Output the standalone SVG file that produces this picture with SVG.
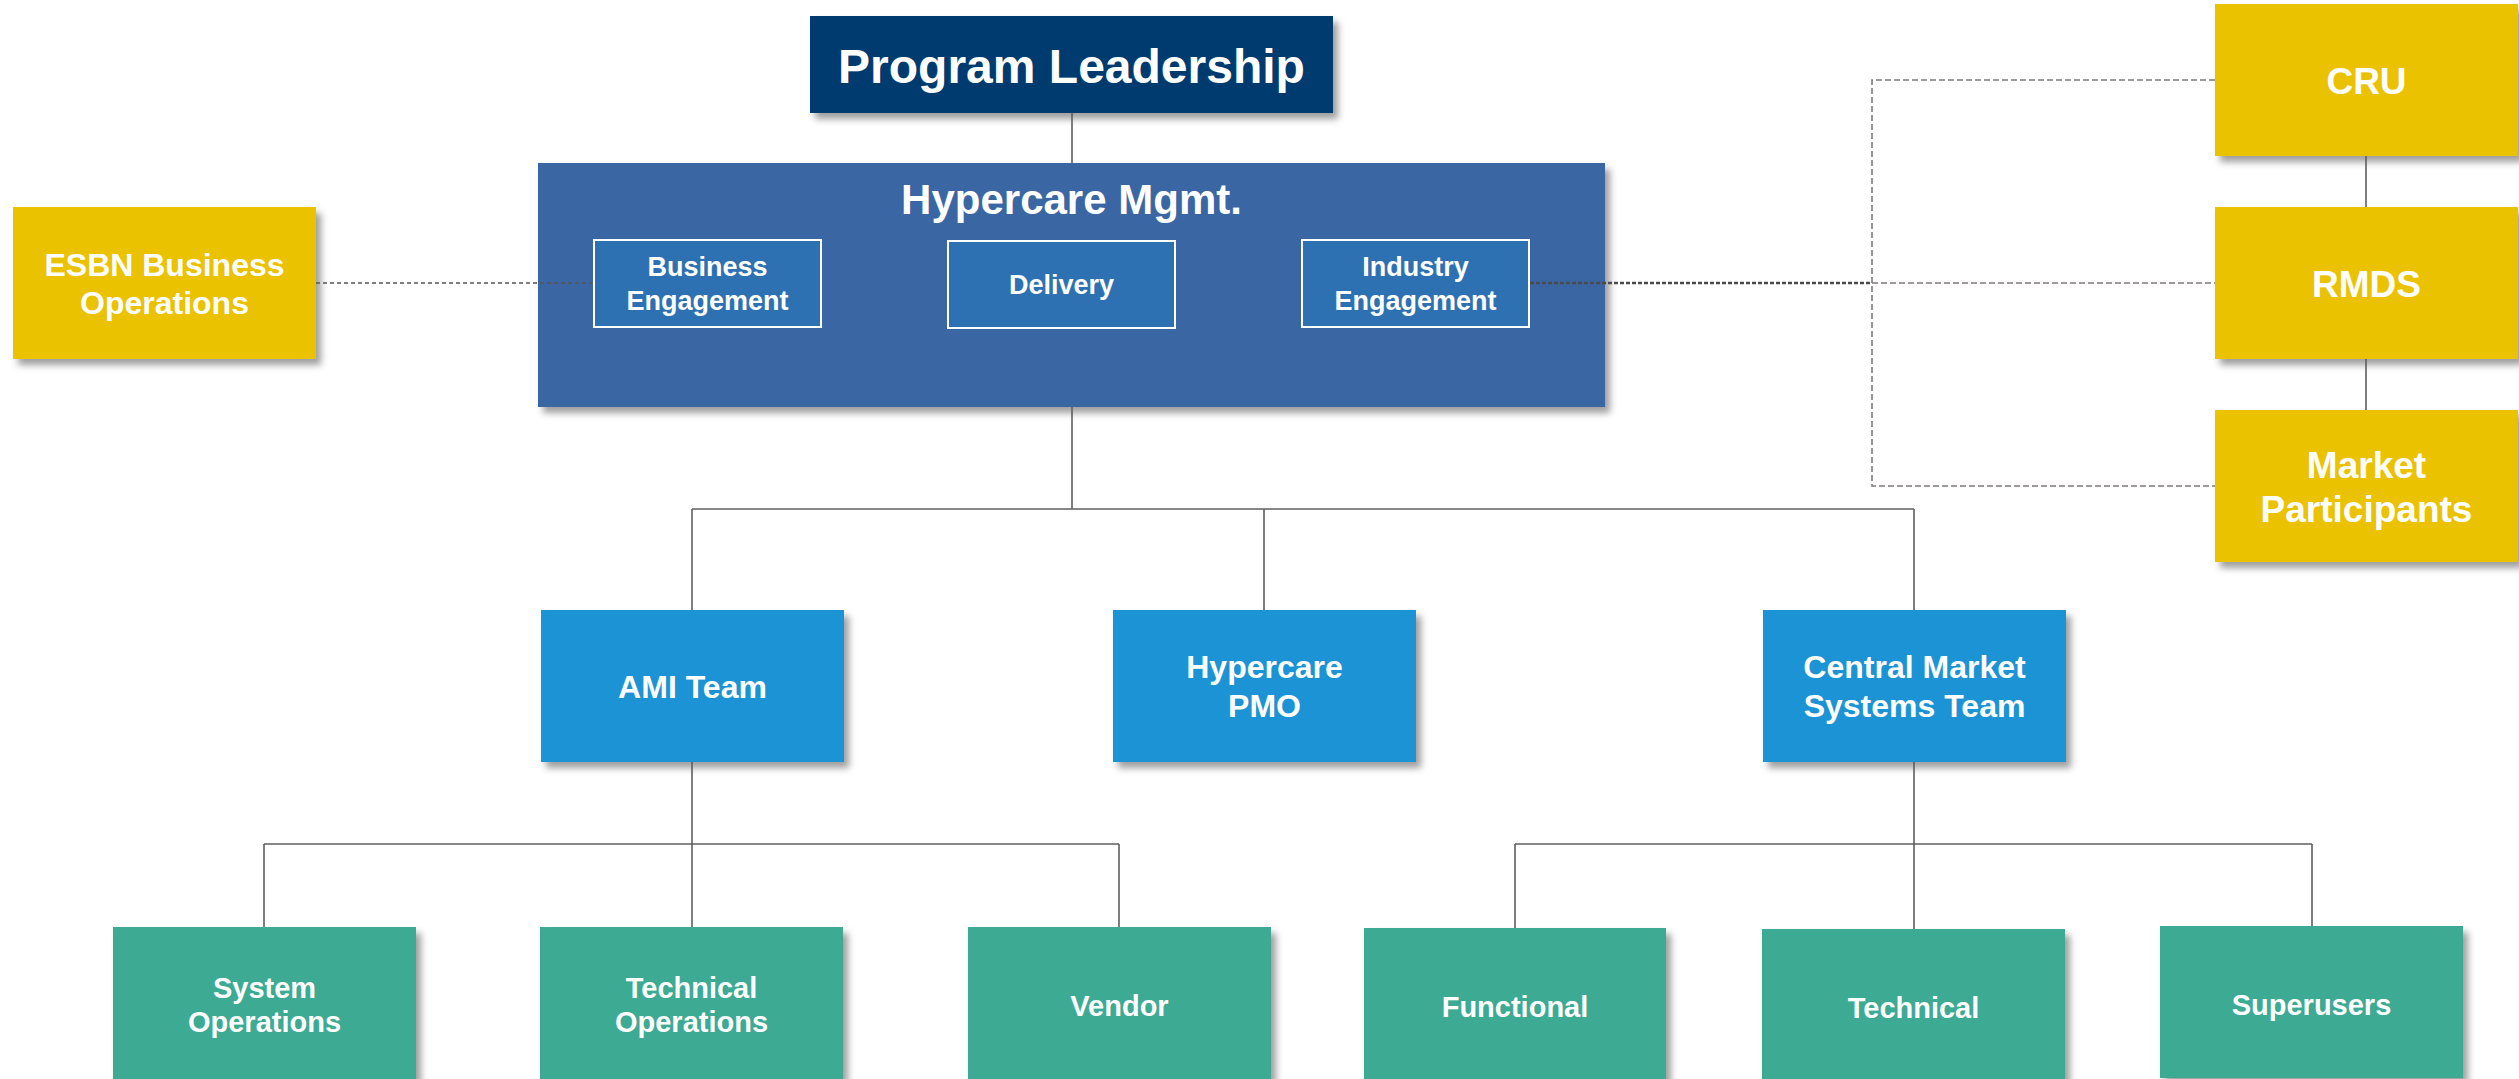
<svg xmlns="http://www.w3.org/2000/svg" width="2519" height="1079" viewBox="0 0 2519 1079">
  <defs>
    <filter id="shadow" x="-10%" y="-10%" width="130%" height="130%">
      <feDropShadow dx="5" dy="6" stdDeviation="3.5" flood-color="#000" flood-opacity="0.38"/>
    </filter>
  </defs>
  <style>
    text { font-family: "Liberation Sans", Arial, sans-serif; font-weight: bold; fill: #ffffff; text-anchor: middle; }
    .box { filter: url(#shadow); }
    .lead { fill: #033b6f; }
    .mgmt { fill: #3a66a4; }
    .sub { fill: #2e71b2; stroke: #ffffff; stroke-width: 2; }
    .ext { fill: #ebc200; }
    .team { fill: #1a93d4; }
    .unit { fill: #3eaa93; }
    .solid { stroke: #5e5e5e; stroke-width: 1.6; fill: none; }
    .dot { stroke: #555555; stroke-width: 1.6; stroke-dasharray: 4 3; fill: none; }
    .dotdark { stroke: #4a4a4a; stroke-width: 2.4; stroke-dasharray: 4 2; fill: none; }
    .dash { stroke: #7d7a78; stroke-width: 1.6; stroke-dasharray: 6 3; fill: none; }
    .t48 { font-size: 48px; }
    .t42 { font-size: 42px; }
    .t37 { font-size: 37px; }
    .t32 { font-size: 32px; }
    .t29 { font-size: 29px; }
    .t27 { font-size: 27px; }
  </style>

  <g id="program-leadership">
    <rect class="box lead" x="810" y="16" width="523" height="97"/>
    <text class="t48" x="1071.5" y="83">Program Leadership</text>
  </g>

  <g id="hypercare-mgmt">
    <rect class="box mgmt" x="538" y="163" width="1067" height="244"/>
    <text class="t42" x="1071.5" y="214">Hypercare Mgmt.</text>
  </g>

  <g id="business-engagement">
    <rect class="sub" x="594" y="240" width="227" height="87"/>
    <text class="t27" x="707.5" y="276">Business</text>
    <text class="t27" x="707.5" y="310">Engagement</text>
  </g>

  <g id="delivery">
    <rect class="sub" x="948" y="241" width="227" height="87"/>
    <text class="t27" x="1061.5" y="294">Delivery</text>
  </g>

  <g id="industry-engagement">
    <rect class="sub" x="1302" y="240" width="227" height="87"/>
    <text class="t27" x="1415.5" y="276">Industry</text>
    <text class="t27" x="1415.5" y="310">Engagement</text>
  </g>

  <g id="esbn-business-operations">
    <rect class="box ext" x="13" y="207" width="303" height="152"/>
    <text class="t32" x="164.5" y="276">ESBN Business</text>
    <text class="t32" x="164.5" y="314">Operations</text>
  </g>

  <g id="cru">
    <rect class="box ext" x="2215" y="4" width="303" height="152"/>
    <text class="t37" x="2366.5" y="94">CRU</text>
  </g>

  <g id="rmds">
    <rect class="box ext" x="2215" y="207" width="303" height="152"/>
    <text class="t37" x="2366.5" y="297">RMDS</text>
  </g>

  <g id="market-participants">
    <rect class="box ext" x="2215" y="410" width="303" height="152"/>
    <text class="t37" x="2366.5" y="478">Market</text>
    <text class="t37" x="2366.5" y="522">Participants</text>
  </g>

  <g id="ami-team">
    <rect class="box team" x="541" y="610" width="303" height="152"/>
    <text class="t32" x="692.5" y="698">AMI Team</text>
  </g>

  <g id="hypercare-pmo">
    <rect class="box team" x="1113" y="610" width="303" height="152"/>
    <text class="t32" x="1264.5" y="678">Hypercare</text>
    <text class="t32" x="1264.5" y="717">PMO</text>
  </g>

  <g id="central-market-systems-team">
    <rect class="box team" x="1763" y="610" width="303" height="152"/>
    <text class="t32" x="1914.5" y="678">Central Market</text>
    <text class="t32" x="1914.5" y="717">Systems Team</text>
  </g>

  <g id="system-operations">
    <rect class="box unit" x="113" y="927" width="303" height="152"/>
    <text class="t29" x="264.5" y="998">System</text>
    <text class="t29" x="264.5" y="1032">Operations</text>
  </g>

  <g id="technical-operations">
    <rect class="box unit" x="540" y="927" width="303" height="152"/>
    <text class="t29" x="691.5" y="998">Technical</text>
    <text class="t29" x="691.5" y="1032">Operations</text>
  </g>

  <g id="vendor">
    <rect class="box unit" x="968" y="927" width="303" height="152"/>
    <text class="t29" x="1119.5" y="1016">Vendor</text>
  </g>

  <g id="functional">
    <rect class="box unit" x="1364" y="928" width="302" height="152"/>
    <text class="t29" x="1515" y="1017">Functional</text>
  </g>

  <g id="technical">
    <rect class="box unit" x="1762" y="929" width="303" height="152"/>
    <text class="t29" x="1913.5" y="1018">Technical</text>
  </g>

  <g id="superusers">
    <rect class="box unit" x="2160" y="926" width="303" height="152"/>
    <text class="t29" x="2311.5" y="1015">Superusers</text>
  </g>

  <!-- connectors, drawn last so the liaison lines show over the management panel -->
  <g id="connectors">
    <!-- leadership to hypercare management -->
    <line class="solid" x1="1072" y1="113" x2="1072" y2="163"/>
    <!-- hypercare management to teams -->
    <line class="solid" x1="1072" y1="407" x2="1072" y2="509"/>
    <line class="solid" x1="692" y1="509" x2="1914" y2="509"/>
    <line class="solid" x1="692" y1="509" x2="692" y2="610"/>
    <line class="solid" x1="1264" y1="509" x2="1264" y2="610"/>
    <line class="solid" x1="1914" y1="509" x2="1914" y2="610"/>
    <!-- AMI team branches -->
    <line class="solid" x1="692" y1="762" x2="692" y2="927"/>
    <line class="solid" x1="264" y1="844" x2="1119" y2="844"/>
    <line class="solid" x1="264" y1="844" x2="264" y2="927"/>
    <line class="solid" x1="1119" y1="844" x2="1119" y2="927"/>
    <!-- central market systems branches -->
    <line class="solid" x1="1914" y1="762" x2="1914" y2="929"/>
    <line class="solid" x1="1515" y1="844" x2="2312" y2="844"/>
    <line class="solid" x1="1515" y1="844" x2="1515" y2="928"/>
    <line class="solid" x1="2312" y1="844" x2="2312" y2="926"/>
    <!-- external chain -->
    <line class="solid" x1="2366" y1="156" x2="2366" y2="207"/>
    <line class="solid" x1="2366" y1="359" x2="2366" y2="410"/>
    <!-- dotted liaison lines -->
    <line class="dot" x1="316" y1="283" x2="594" y2="283"/>
    <line class="dotdark" x1="1530" y1="283" x2="1872" y2="283"/>
    <path class="dash" d="M2215,80 H1872 V486 H2215"/>
    <line class="dash" x1="1872" y1="283" x2="2215" y2="283"/>
  </g>
</svg>
